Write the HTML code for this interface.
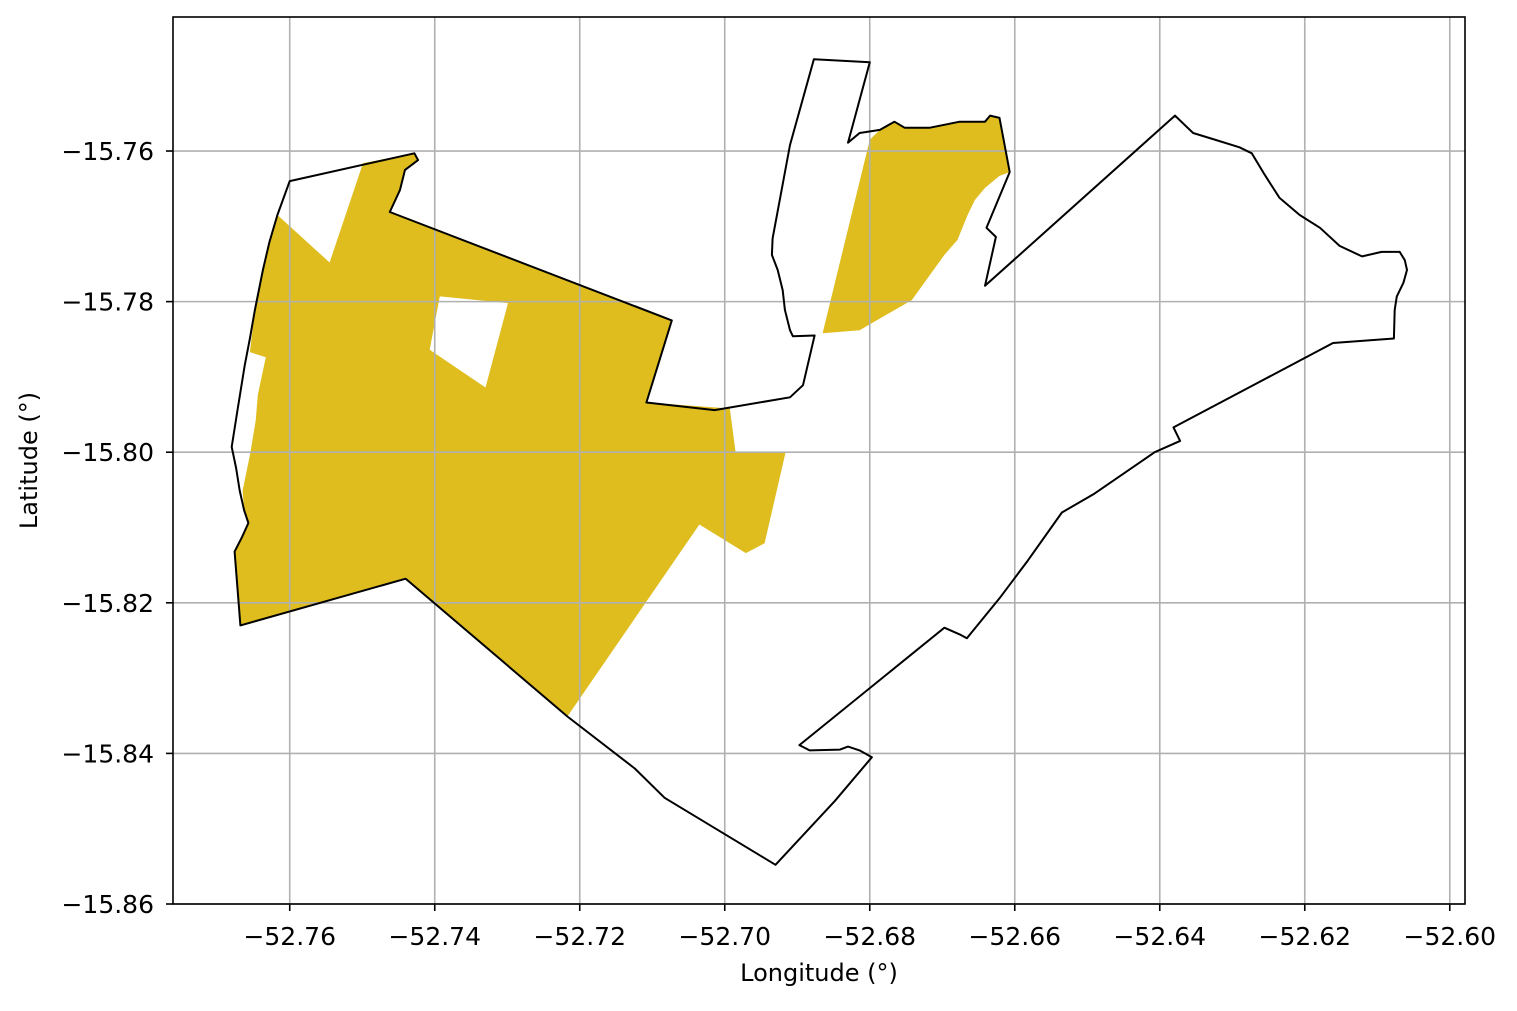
<!DOCTYPE html>
<html><head><meta charset="utf-8"><style>
body{margin:0;background:#fff;}
svg text{font-family:"DejaVu Sans","Liberation Sans",sans-serif;fill:#000;}
</style></head><body>
<svg id="chart" width="1517" height="1006" xmlns="http://www.w3.org/2000/svg"></svg>
<script>
const xTicks=[-52.76,-52.74,-52.72,-52.70,-52.68,-52.66,-52.64,-52.62,-52.60];
const xTickLabels=["−52.76","−52.74","−52.72","−52.70","−52.68","−52.66","−52.64","−52.62","−52.60"];
const yTicks=[-15.76,-15.78,-15.80,-15.82,-15.84,-15.86];
const yTickLabels=["−15.76","−15.78","−15.80","−15.82","−15.84","−15.86"];
const outlineLon=[-52.7600,-52.7428,-52.7423,-52.7441,-52.7448,-52.7462,-52.7073,-52.7108,-52.7014,-52.6910,-52.6892,-52.6876,-52.6906,-52.6910,-52.6917,-52.6920,-52.6927,-52.6935,-52.6934,-52.6910,-52.6877,-52.6800,-52.6830,-52.6814,-52.6786,-52.6766,-52.6752,-52.6717,-52.6676,-52.6641,-52.6634,-52.6621,-52.6607,-52.6639,-52.6626,-52.6641,-52.6379,-52.6354,-52.6327,-52.6290,-52.6273,-52.6255,-52.6235,-52.6207,-52.6179,-52.6152,-52.6121,-52.6094,-52.6069,-52.6062,-52.6059,-52.6064,-52.6073,-52.6076,-52.6077,-52.6161,-52.6381,-52.6372,-52.6407,-52.6490,-52.6535,-52.6582,-52.6621,-52.6666,-52.6676,-52.6697,-52.6897,-52.6883,-52.6841,-52.6830,-52.6814,-52.6797,-52.6848,-52.6930,-52.7083,-52.7124,-52.7217,-52.7440,-52.7668,-52.7676,-52.7666,-52.7657,-52.7663,-52.7669,-52.7674,-52.7680,-52.7672,-52.7662,-52.7655,-52.7648,-52.7637,-52.7628,-52.7617];
const outlineLat=[-15.7640,-15.7603,-15.7612,-15.7625,-15.7652,-15.7681,-15.7825,-15.7934,-15.7944,-15.7927,-15.7911,-15.7845,-15.7846,-15.7838,-15.7811,-15.7785,-15.7758,-15.7738,-15.7716,-15.7592,-15.7478,-15.7482,-15.7589,-15.7576,-15.7572,-15.7561,-15.7569,-15.7569,-15.7561,-15.7561,-15.7553,-15.7556,-15.7628,-15.7702,-15.7714,-15.7779,-15.7553,-15.7576,-15.7584,-15.7595,-15.7603,-15.7632,-15.7662,-15.7685,-15.7702,-15.7726,-15.7740,-15.7734,-15.7734,-15.7745,-15.7758,-15.7775,-15.7793,-15.7811,-15.7849,-15.7855,-15.7967,-15.7985,-15.8000,-15.8055,-15.8080,-15.8144,-15.8194,-15.8247,-15.8242,-15.8233,-15.8389,-15.8396,-15.8395,-15.8391,-15.8396,-15.8405,-15.8463,-15.8548,-15.8459,-15.8420,-15.8351,-15.8168,-15.8230,-15.8132,-15.8113,-15.8094,-15.8077,-15.8051,-15.8021,-15.7993,-15.7944,-15.7884,-15.7849,-15.7811,-15.7758,-15.7721,-15.7685];
const westLon=[-52.7499,-52.7428,-52.7423,-52.7441,-52.7448,-52.7462,-52.7073,-52.7108,-52.6993,-52.6985,-52.6916,-52.6945,-52.6971,-52.7035,-52.7217,-52.7440,-52.7668,-52.7676,-52.7666,-52.7657,-52.7663,-52.7665,-52.7655,-52.7647,-52.7644,-52.7633,-52.7655,-52.7648,-52.7637,-52.7628,-52.7617,-52.7545];
const westLat=[-15.7616,-15.7603,-15.7612,-15.7625,-15.7652,-15.7681,-15.7825,-15.7934,-15.7942,-15.8000,-15.8000,-15.8121,-15.8134,-15.8096,-15.8351,-15.8168,-15.8230,-15.8132,-15.8113,-15.8094,-15.8077,-15.8051,-15.8004,-15.7958,-15.7924,-15.7874,-15.7867,-15.7811,-15.7758,-15.7721,-15.7685,-15.7748];
const holeLon=[-52.7393,-52.7299,-52.7330,-52.7407];
const holeLat=[-15.7793,-15.7802,-15.7914,-15.7864];
const northLon=[-52.6800,-52.6786,-52.6766,-52.6752,-52.6717,-52.6676,-52.6641,-52.6634,-52.6621,-52.6607,-52.6621,-52.6641,-52.6655,-52.6665,-52.6679,-52.6697,-52.6742,-52.6814,-52.6865];
const northLat=[-15.7585,-15.7572,-15.7561,-15.7569,-15.7569,-15.7561,-15.7561,-15.7553,-15.7556,-15.7628,-15.7633,-15.7649,-15.7665,-15.7685,-15.7718,-15.7738,-15.7798,-15.7838,-15.7842];

const L=173,R=1465,T=17,B=904;
const xmin=-52.7761,xmax=-52.5979,ymin=-15.86,ymax=-15.7422;
const sx=v=>L+(v-xmin)/(xmax-xmin)*(R-L);
const sy=v=>B-(v-ymin)/(ymax-ymin)*(B-T);
const svg=document.getElementById('chart');
const NS='http://www.w3.org/2000/svg';
function mk(tag,attrs,parent){const e=document.createElementNS(NS,tag);for(const k in attrs)e.setAttribute(k,attrs[k]);(parent||svg).appendChild(e);return e;}
const pts=(lo,la)=>lo.map((v,i)=>sx(v).toFixed(1)+','+sy(la[i]).toFixed(1)).join(' ');

let p=mk('polygon',{points:pts(westLon,westLat),fill:'#dfbd1f'});


p=mk('polygon',{points:pts(holeLon,holeLat),fill:'#fff'});


p=mk('polygon',{points:pts(northLon,northLat),fill:'#dfbd1f'});



xTicks.forEach((v,i)=>{
  const x=sx(v);
  let g=mk('line',{x1:x,x2:x,y1:T,y2:B,stroke:'#b0b0b0','stroke-width':1.6});
  
  
  g=mk('line',{x1:x,x2:x,y1:B,y2:B+7,stroke:'#000','stroke-width':1.6});
  
  
  const t=mk('text',{x:x,y:945,'text-anchor':'middle','font-size':'25'});
  t.textContent=xTickLabels[i];
  
  
});
yTicks.forEach((v,i)=>{
  const y=sy(v);
  let g=mk('line',{x1:L,x2:R,y1:y,y2:y,stroke:'#b0b0b0','stroke-width':1.6});
  
  
  g=mk('line',{x1:L-7,x2:L,y1:y,y2:y,stroke:'#000','stroke-width':1.6});
  
  
  const t=mk('text',{x:L-19,y:y+9,'text-anchor':'end','font-size':'25'});
  t.textContent=yTickLabels[i];
  
  
});

p=mk('polygon',{points:pts(outlineLon,outlineLat),fill:'none',stroke:'#000','stroke-width':2,'stroke-linejoin':'round'});



let fr=mk('rect',{x:L,y:T,width:R-L,height:B-T,fill:'none',stroke:'#000','stroke-width':1.6});



let xl=mk('text',{x:(L+R)/2,y:981,'text-anchor':'middle','font-size':'24'});
xl.textContent='Longitude (°)';


let yl=mk('text',{x:0,y:0,'text-anchor':'middle','font-size':'24',transform:'translate(37,'+((T+B)/2)+') rotate(-90)'});
yl.textContent='Latitude (°)';


</script>
</body></html>
